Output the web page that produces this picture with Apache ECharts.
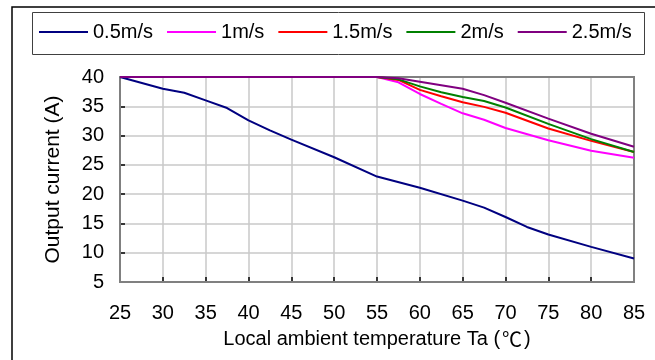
<!DOCTYPE html>
<html>
<head>
<meta charset="utf-8">
<script src="https://cdn.jsdelivr.net/npm/echarts@6/dist/echarts.min.js"></script>
<style>
html,body{margin:0;padding:0;background:#fff;}
#chart{width:655px;height:360px;}
</style>
</head>
<body>
<div id="chart"></div>
<script>
var seriesNames = ['0.5m/s', '1m/s', '1.5m/s', '2m/s', '2.5m/s'];
var seriesColors = ['#000080', '#ff00ff', '#ff0000', '#008000', '#800080'];

var tempA = [25, 30, 32.5, 35, 37.5, 40, 42.5, 45, 50, 55, 60, 65, 67.5, 70, 72.5, 75, 80, 85];
var current05 = [40, 38.0, 37.3, 36.0, 34.7, 32.6, 30.9, 29.3, 26.3, 23.0, 21.1, 18.9, 17.7, 16.1, 14.4, 13.1, 11.0, 9.0];

var tempB = [25, 55, 57.5, 60, 62.5, 65, 67.5, 70, 75, 80, 85];
var current1 = [40, 40, 39.1, 37.1, 35.4, 33.8, 32.7, 31.3, 29.2, 27.4, 26.2];
var current15 = [40, 40, 39.5, 37.8, 36.7, 35.7, 34.9, 33.9, 31.2, 29.1, 27.2];
var current2 = [40, 40, 39.6, 38.4, 37.4, 36.6, 35.9, 34.8, 32.0, 29.4, 27.2];
var current25 = [40, 40, 39.8, 39.2, 38.6, 38.0, 36.9, 35.6, 32.9, 30.3, 28.1];

var xTicks = [25, 30, 35, 40, 45, 50, 55, 60, 65, 70, 75, 80, 85];
var yTicks = [5, 10, 15, 20, 25, 30, 35, 40];

function pairs(xs, ys) { return xs.map(function (x, i) { return [x, ys[i]]; }); }

var allData = [pairs(tempA, current05), pairs(tempB, current1), pairs(tempB, current15), pairs(tempB, current2), pairs(tempB, current25)];

var font = 'Liberation Sans, Arial, sans-serif';
var chart = echarts.init(document.getElementById('chart'), null, { renderer: 'canvas' });

var series = seriesNames.map(function (n, i) {
  return {
    name: n, type: 'line', data: allData[i], symbol: 'none', smooth: false,
    lineStyle: { color: seriesColors[i], width: 2 }, itemStyle: { color: seriesColors[i] },
    z: 3 + i
  };
});

chart.setOption({
  animation: false,
  backgroundColor: '#fff',
  textStyle: { fontFamily: font },
  graphic: [
    { type: 'rect', shape: { x: 12, y: 7, width: 700, height: 400 }, style: { fill: 'none', stroke: '#000', lineWidth: 1.5 }, z: 0 },
    { type: 'rect', shape: { x: 32.5, y: 12.5, width: 612, height: 42 }, style: { fill: 'none', stroke: '#404040', lineWidth: 1 }, z: 0 },
    { type: 'rect', shape: { x: 120, y: 77, width: 514, height: 205 }, style: { fill: 'none', stroke: '#808080', lineWidth: 2 }, z: 1 }
  ],
  legend: {
    data: seriesNames.map(function (n) { return { name: n, icon: 'rect' }; }),
    left: 39, top: 22, padding: 0,
    itemWidth: 49, itemHeight: 2, itemGap: 14,
    textStyle: { fontSize: 20, color: '#000', fontFamily: font }
  },
  grid: { left: 120, right: 21, top: 77, bottom: 78, containLabel: false },
  xAxis: {
    type: 'value', min: 25, max: 85, interval: 5,
    name: 'Local ambient temperature Ta ({c|℃})', nameLocation: 'middle', nameGap: 47,
    nameTextStyle: {
      fontSize: 20, color: '#000', fontFamily: font,
      rich: { c: { fontSize: 20, color: '#000', fontFamily: 'Noto Sans CJK SC', padding: [0, 2, 0, 2] } }
    },
    axisLine: { lineStyle: { color: '#000', width: 2 } },
    axisTick: { inside: true, length: 5, lineStyle: { color: '#000', width: 1.5 } },
    axisLabel: { fontSize: 20, color: '#000', margin: 21, fontFamily: font },
    splitLine: { show: true, lineStyle: { color: '#c8c8c8', width: 1.5 } }
  },
  yAxis: {
    type: 'value', min: 5, max: 40, interval: 5,
    name: 'Output current (A)', nameLocation: 'middle', nameGap: 56, nameRotate: 90,
    nameTextStyle: { fontSize: 21, color: '#000', fontFamily: font },
    axisLine: { lineStyle: { color: '#000', width: 2 } },
    axisTick: { inside: true, length: 5, lineStyle: { color: '#000', width: 1.5 } },
    axisLabel: { fontSize: 20, color: '#000', margin: 16, fontFamily: font },
    splitLine: { show: true, lineStyle: { color: '#c8c8c8', width: 1.5 } }
  },
  series: series
});
</script>
</body>
</html>
